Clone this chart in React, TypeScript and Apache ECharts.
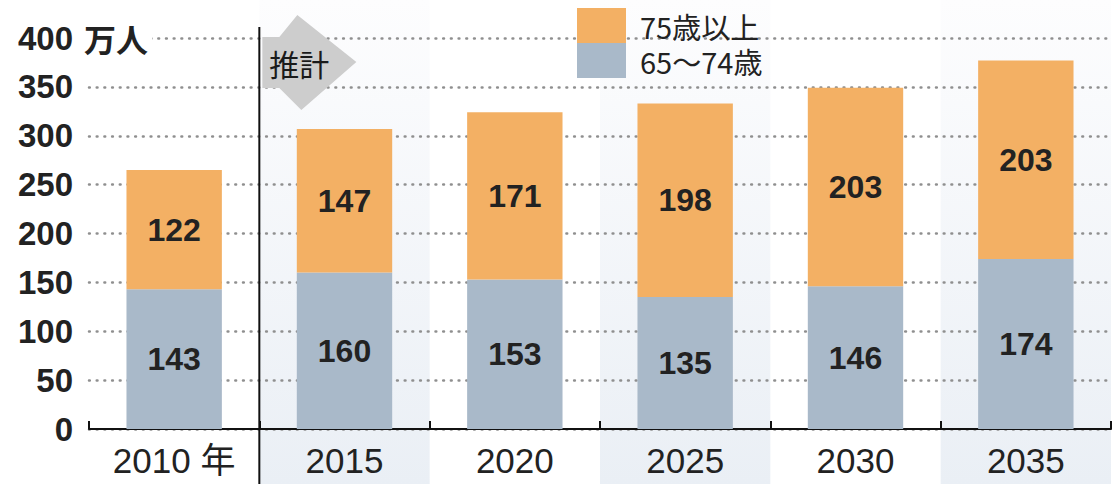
import React, { useEffect, useRef } from "react";
import * as echarts from "echarts";

const categories = ["2010 年", "2015", "2020", "2025", "2030", "2035"];
const age65to74 = [143, 160, 153, 135, 146, 174];
const age75plus = [122, 147, 171, 198, 203, 203];
const seriesNames = ["65～74歳", "75歳以上"];
const yMin = 0;
const yMax = 400;
const yStep = 50;
const unitLabel = "万人";
const projectionLabel = "推計";

const NUM_FONT = "'Liberation Sans', Arial, 'Noto Sans CJK JP', sans-serif";
const JP_FONT = "'Noto Sans CJK JP', 'Liberation Sans', sans-serif";

export default function App() {
  const ref = useRef<HTMLDivElement>(null);
  useEffect(() => {
    if (!ref.current) return;
    document.body.style.margin = "0";
    const chart = echarts.init(ref.current, null, { renderer: "svg" });
    const option: any = {
      animation: false,
      backgroundColor: "#ffffff",
      grid: { left: 89, right: 8, top: 38, bottom: 55, containLabel: false },
      legend: {
        orient: "vertical",
        left: 572,
        top: 3,
        itemWidth: 49,
        itemHeight: 35,
        itemGap: 0,
        icon: "rect",
        selectedMode: false,
        data: [seriesNames[1], seriesNames[0]],
        textStyle: { fontSize: 29, lineHeight: 33, color: "#222", fontFamily: JP_FONT, padding: [0, 0, 0, 9] },
      },
      xAxis: {
        type: "category",
        data: categories,
        axisLine: { show: true, lineStyle: { color: "#111", width: 2 } },
        axisTick: { show: true, inside: true, length: 8, lineStyle: { color: "#111", width: 2 } },
        axisLabel: { fontSize: 35, color: "#222", fontFamily: NUM_FONT, margin: 14 },
        splitLine: { show: false },
      },
      yAxis: {
        type: "value",
        min: yMin,
        max: yMax,
        interval: yStep,
        axisLine: { show: false },
        axisTick: { show: false },
        axisLabel: { fontSize: 33, fontWeight: "bold", color: "#222", fontFamily: NUM_FONT, margin: 16 },
        splitLine: {
          show: true,
          lineStyle: { color: "#8f8f8f", width: 2.5, type: [0.8, 6.9], cap: "round" },
        },
      },
      series: [
        {
          name: seriesNames[0],
          type: "bar",
          stack: "total",
          barWidth: "56%",
          data: age65to74,
          itemStyle: { color: "#a9b9c9" },
          label: { show: true, position: "inside", fontSize: 32, fontWeight: "bold", color: "#222", fontFamily: NUM_FONT },
        },
        {
          name: seriesNames[1],
          type: "bar",
          stack: "total",
          barWidth: "56%",
          data: age75plus,
          itemStyle: { color: "#f3b064" },
          label: { show: true, position: "inside", fontSize: 32, fontWeight: "bold", color: "#222", fontFamily: NUM_FONT },
        },
      ],
    };
    chart.setOption(option);

    const c1 = chart.convertToPixel({ xAxisIndex: 0 }, categories[1]) as number;
    const c2 = chart.convertToPixel({ xAxisIndex: 0 }, categories[2]) as number;
    const step = c2 - c1;
    const yTop = chart.convertToPixel({ yAxisIndex: 0 }, yMax) as number;
    const H = chart.getHeight();
    const bands: any[] = [];
    categories.forEach((cat, i) => {
      if (i % 2 === 1) {
        const cx = chart.convertToPixel({ xAxisIndex: 0 }, cat) as number;
        bands.push({
          type: "rect",
          z: -10,
          silent: true,
          shape: { x: cx - step / 2, y: 0, width: step, height: H },
          style: {
            fill: new echarts.graphic.LinearGradient(0, 0, 0, 1, [
              { offset: 0, color: "#fdfdfe" },
              { offset: 1, color: "#eaeff5" },
            ]),
          },
        });
      }
    });
    const divX = c1 - step / 2;
    const y400 = yTop;
    chart.setOption({
      graphic: [
        ...bands,
        {
          type: "line",
          z: 10,
          silent: true,
          shape: { x1: divX, y1: y400 - 11, x2: divX, y2: H },
          style: { stroke: "#111", lineWidth: 2 },
        },
        {
          type: "polygon",
          z: 5,
          silent: true,
          shape: {
            points: [
              [divX + 3, y400 - 1],
              [divX + 20, y400 - 1],
              [divX + 38, y400 - 23],
              [divX + 97, y400 + 24],
              [divX + 42, y400 + 72],
              [divX + 20, y400 + 50],
              [divX + 3, y400 + 50],
            ],
          },
          style: { fill: "#cdcdcd" },
        },
        {
          type: "text",
          z: 11,
          silent: true,
          x: divX + 10,
          y: y400 + 25,
          style: {
            text: projectionLabel,
            fontSize: 30,
            fontFamily: JP_FONT,
            fill: "#1a1a1a",
            verticalAlign: "middle",
            align: "left",
          },
        },
        {
          type: "text",
          z: 11,
          silent: true,
          x: 82,
          y: y400,
          style: {
            text: unitLabel,
            fontSize: 32,
            fontWeight: "bold",
            fontFamily: JP_FONT,
            fill: "#222",
            verticalAlign: "middle",
            align: "left",
            backgroundColor: "#ffffff",
            padding: [0, 4, 0, 2],
          },
        },
      ],
    });

    return () => chart.dispose();
  }, []);
  return <div ref={ref} style={{ width: 1119, height: 484 }} />;
}
